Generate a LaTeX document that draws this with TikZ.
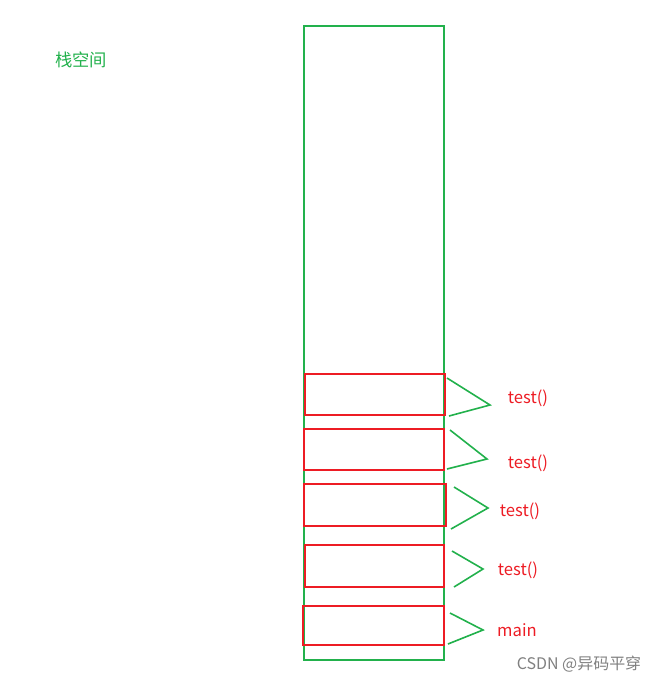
\documentclass[tikz,border=0pt]{standalone}
\usepackage{fontspec}
\setmainfont{Noto Sans CJK SC}
\definecolor{stackgreen}{RGB}{34,177,76}
\definecolor{framered}{RGB}{237,28,36}
\begin{document}
\begin{tikzpicture}[x=0.0264cm, y=-0.0264cm, semithick,
    frame/.style={draw=framered, line width=1.6pt},
    pointer/.style={draw=stackgreen, line width=1.2pt},
    label/.style={text=framered, font=\fontsize{12.5}{14}\selectfont}]
            \useasboundingbox (0, 0) rectangle (663, 682);
            \draw[stackgreen, line width=1.6pt] (304, 26) rectangle (444, 660);
            \node[text=stackgreen, font=\fontsize{13}{15}\selectfont] (title) at (81, 60) {栈空间};
            % frames on the stack
            \draw[frame] (305, 374) rectangle (445, 415);
            \draw[frame] (304, 429) rectangle (444, 470);
            \draw[frame] (304, 484) rectangle (446, 526);
            \draw[frame] (305, 545) rectangle (444, 587);
            \draw[frame] (303, 606) rectangle (444, 645);
            % labels
            \node[label] (t1) at (528, 398) {test()};
            \node[label] (t2) at (528, 463) {test()};
            \node[label] (t3) at (520, 511) {test()};
            \node[label] (t4) at (518, 570) {test()};
            \node[label] (m) at (517, 630) {main};
            \coordinate (p1) at (490, 405);
            \coordinate (p2) at (487, 459);
            \coordinate (p3) at (488, 508);
            \coordinate (p4) at (483, 569);
            \coordinate (p5) at (483, 630);
            \draw[pointer] (447, 378) -- (p1) -- (449, 416);
            \draw[pointer] (450, 430) -- (p2) -- (447, 469);
            \draw[pointer] (454, 487) -- (p3) -- (451, 529);
            \draw[pointer] (452, 551) -- (p4) -- (454, 587);
            \draw[pointer] (450, 613) -- (p5) -- (448, 644);
            \node[text=gray, font=\fontsize{12}{14}\selectfont] (mark) at (579, 664) {CSDN @异码平穿};
        \end{tikzpicture}
\end{document}
